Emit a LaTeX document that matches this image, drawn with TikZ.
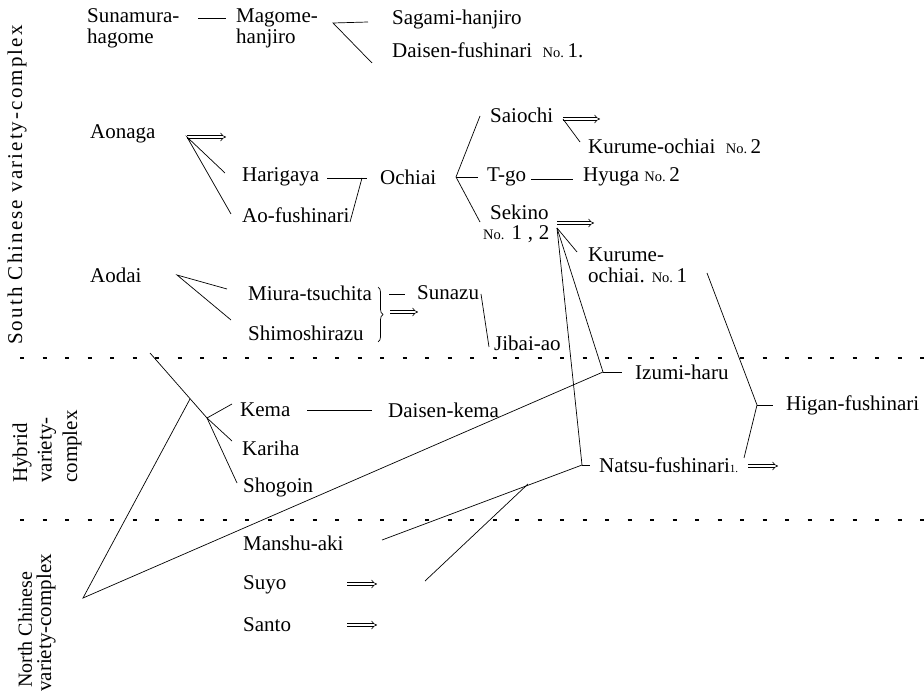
\documentclass[tikz,border=0pt]{standalone}
\usepackage{fontspec}
\setmainfont{Liberation Serif}
\usetikzlibrary{arrows.meta,decorations.pathreplacing}
\newcommand\Nr[1]{{\fontsize{14.5}{14.5}\selectfont No.}\,#1}
\begin{document}
\begin{tikzpicture}[x=1pt,y=-1pt,
  lbl/.style={anchor=west, inner sep=0pt, font=\fontsize{21}{21}\selectfont, align=left},
  side/.style={lbl, rotate=90},
  ln/.style={line width=0.7pt},
  dbl/.style={double, double distance=2.4pt, line width=0.6pt, -{Implies}},
  sep/.style={line width=1.1pt, dash pattern=on 4pt off 18.5pt}]
\useasboundingbox (0,0) rectangle (924,692);
% ---------- top row
\node[lbl] (sun) at (87,28.5) {Sunamura-\\hagome};
\node[lbl] (mag) at (236,28.5) {Magome-\\hanjiro};
\node[lbl] (sag) at (392,19) {Sagami-hanjiro};
\node[lbl] (dfu) at (392,50) {Daisen-fushinari\enspace\Nr{1.}};
\coordinate (m0) at (333,23);
\draw[ln] (198,18) -- (226,18);
\draw[ln] (368,22) -- (m0) -- (372,63);
% ---------- Aonaga group
\node[lbl] (aon) at (90,134) {Aonaga};
\coordinate (a0) at (187,137);
\draw[dbl] (a0) -- (226,137);
\draw[ln] (225,173) -- (a0) -- (231,214);
\node[lbl] (har) at (242,177) {Harigaya};
\node[lbl] (aof) at (242,215) {Ao-fushinari};
\node[lbl] (och) at (380,177) {Ochiai};
\coordinate (h0) at (362,178);
\draw[ln] (327,178) -- (367,178);
\draw[ln] (350,222) -- (h0);
\coordinate (o0) at (456,177);
\draw[ln] (480,116) -- (o0) -- (480,222);
\draw[ln] (o0) -- (478,177);
\node[lbl] (sai) at (490,115) {Saiochi};
\coordinate (s1) at (563,119);
\draw[dbl] (s1) -- (600,119);
\draw[ln] (s1) -- (580,142);
\node[lbl] (k2) at (588,146) {Kurume-ochiai\enspace\Nr{2}};
\node[lbl] (tgo) at (487,177) {T-go};
\draw[ln] (531,179) -- (573,179);
\node[lbl] (hyu) at (583,177) {Hyuga \Nr{2}};
\node[lbl] (sek) at (490,212) {Sekino};
\node[lbl] (sek2) at (483,234) {\Nr{\,1\;,\;2}};
\coordinate (s0) at (557,228);
\draw[dbl] (557,223) -- (594,223);
\draw[ln] (s0) -- (577,252);
\node[lbl] (k1) at (588,265) {Kurume-\\ochiai. \Nr{1}};
\coordinate (z0) at (603,372);
\coordinate (n0) at (582,465);
\draw[ln] (s0) -- (z0);
\draw[ln] (s0) -- (n0);
\node[lbl] (izu) at (635,372) {Izumi-haru};
\draw[ln] (z0) -- (622,372);
\node[lbl] (nat) at (599,465) {Natsu-fushinari{\fontsize{11}{11}\selectfont 1.}};
\draw[dbl] (748,466) -- (778,466);
\coordinate (g0) at (757,405);
\draw[ln] (707,273) -- (g0) -- (744,458);
\draw[ln] (g0) -- (773,405);
\node[lbl] (hig) at (786,405) {Higan-fushinari};
% ---------- Aodai group
\node[lbl] (aod) at (90,275) {Aodai};
\coordinate (d0) at (177,275);
\draw[ln] (227,289) -- (d0) -- (231,320);
\node[lbl] (miu) at (248,293) {Miura-tsuchita};
\node[lbl] (shi) at (248,333) {Shimoshirazu};
\draw[ln, decorate, decoration={brace, amplitude=5pt}] (378,287) -- (378,342);
\draw[ln] (389,294) -- (405,294);
\node[lbl] (snz) at (417,293) {Sunazu};
\draw[dbl] (390,312) -- (418,312);
\draw[ln] (481,294) -- (489,347);
\node[lbl] (jib) at (494,343) {Jibai-ao};
% ---------- separators
\draw[sep] (20,358) -- (924,358);
\draw[sep] (20,520) -- (924,520);
% ---------- hybrid group
\coordinate (y0) at (190,399);
\coordinate (y1) at (207,418);
\draw[ln] (150,353) -- (y1) -- (237,483);
\draw[ln] (y1) -- (232,404);
\draw[ln] (y1) -- (232,441);
\node[lbl] (kem) at (240,410) {Kema};
\draw[ln] (307,410) -- (372,410);
\node[lbl] (dke) at (388,410) {Daisen-kema};
\node[lbl] (kar) at (242,448) {Kariha};
\node[lbl] (sho) at (243,487) {Shogoin};
\coordinate (r0) at (83,598);
\draw[ln] (y0) -- (r0) -- (z0);
% ---------- north group
\node[lbl] (man) at (243,543) {Manshu-aki};
\coordinate (j0) at (528,484);
\draw[ln] (382,540) -- (n0);
\draw[ln] (425,581) -- (j0);
\draw[ln] (n0) -- (590,465);
\node[lbl] (suy) at (243,585) {Suyo};
\draw[dbl] (347,584) -- (377,584);
\node[lbl] (san) at (243,625) {Santo};
\draw[dbl] (347,625) -- (377,625);
% ---------- side labels
\node[side, font=\fontsize{21}{21}\selectfont\addfontfeature{LetterSpace=10}] (lsc) at (17,345) {South Chinese variety-complex};
\node[side] (lh1) at (22,483) {Hybrid};
\node[side] (lh2) at (47,483) {variety-};
\node[side] (lh3) at (72,483) {complex};
\node[side, font=\fontsize{20}{20}\selectfont] (ln1) at (25,688) {North Chinese};
\node[side] (ln2) at (46,692) {variety-complex};
\end{tikzpicture}
\end{document}
